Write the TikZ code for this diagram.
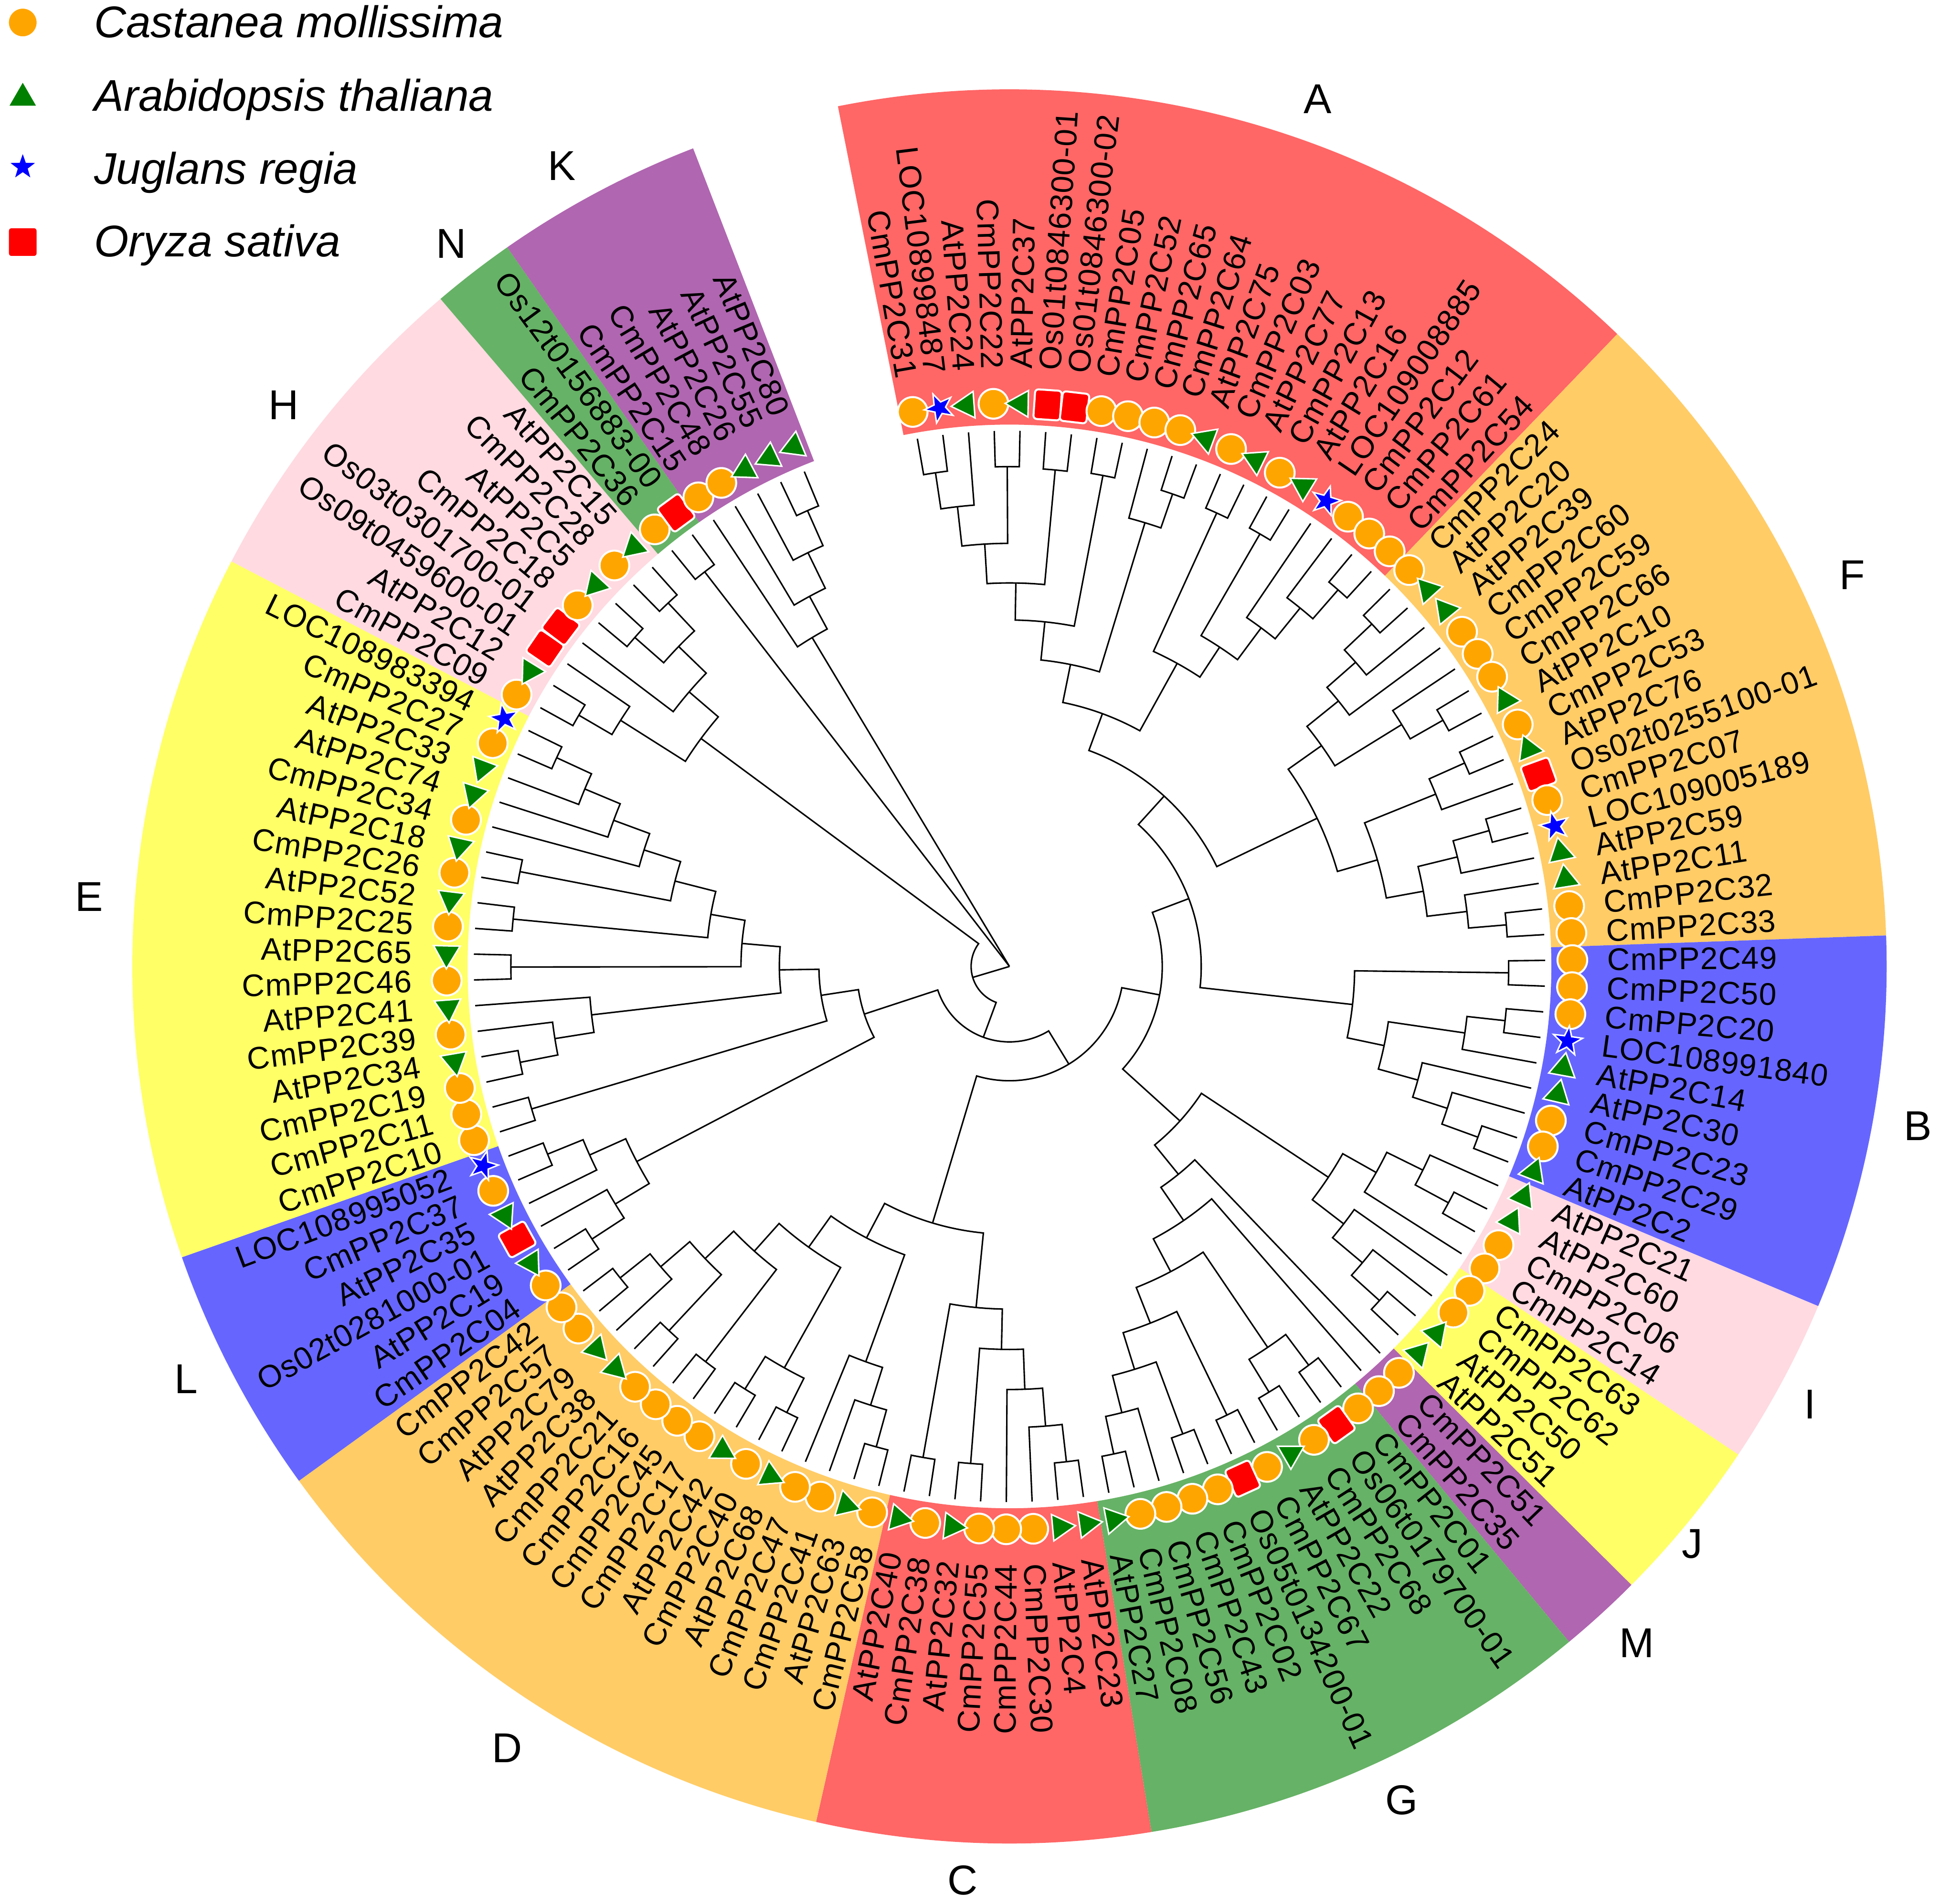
\documentclass[tikz,border=0pt]{standalone}
\usepackage{fontspec}
\setmainfont{Liberation Sans}
\newfontfamily\labfont[LetterSpace=2]{Liberation Sans}
\usetikzlibrary{shapes.geometric}

% join two subtrees (#2,#3) at radius #4, store angle/radius of the new node #1
\newcommand\tjoin[4]{%
  \edef\brA{\csname ta#2\endcsname}%
  \edef\brRA{\csname tr#2\endcsname}%
  \edef\brB{\csname ta#3\endcsname}%
  \edef\brRB{\csname tr#3\endcsname}%
  \draw[branch] (\brA:\brRA) -- (\brA:#4) arc[start angle=\brA, end angle=\brB, radius=#4] -- (\brB:\brRB);%
  \pgfmathsetmacro\brM{(\brA+\brB)/2}%
  \expandafter\xdef\csname ta#1\endcsname{\brM}%
  \expandafter\xdef\csname tr#1\endcsname{#4}%
}

\begin{document}
\begin{tikzpicture}[x=0.025cm,y=0.025cm,
    branch/.style={line width=0.03cm},
    spcm/.style={circle, fill=symorange, draw=white, line width=0.04cm, minimum size=0.6cm, inner sep=0},
    spat/.style={regular polygon, regular polygon sides=3, fill=symgreen, draw=white, line width=0.03cm, minimum size=0.62cm, inner sep=0},
    spjr/.style={star, star points=5, star point ratio=2.5, fill=blue, draw=white, line width=0.03cm, minimum size=0.62cm, inner sep=0},
    spos/.style={rectangle, rounded corners=0.07cm, fill=red, draw=white, line width=0.04cm, minimum width=0.6cm, minimum height=0.54cm, inner sep=0},
    lab/.style={font=\labfont\fontsize{18}{20}\selectfont, inner sep=0},
    clade/.style={font=\fontsize{24}{28}\selectfont, inner sep=0},
    legtxt/.style={font=\itshape\fontsize{25.5}{30}\selectfont, inner sep=0}]
    \definecolor{symorange}{RGB}{255,165,0}
    \definecolor{symgreen}{RGB}{0,128,0}
    \definecolor{wred}{RGB}{255,102,102}
    \definecolor{worg}{RGB}{255,204,102}
    \definecolor{wblu}{RGB}{102,102,255}
    \definecolor{wpnk}{RGB}{255,218,225}
    \definecolor{wyel}{RGB}{255,255,102}
    \definecolor{wpur}{RGB}{176,102,176}
    \definecolor{wgrn}{RGB}{102,178,102}

    \useasboundingbox (-815.9,-757.8) rectangle (752.1,781.2);

    % clade bands
    \foreach \f/\l/\col in {0/19/wred, 20/35/worg, 36/44/wblu, 45/48/wpnk, 49/52/wyel, 53/54/wpur, 55/65/wgrn,
        66/73/wred, 74/88/worg, 89/94/wblu, 95/111/wyel, 112/119/wpnk, 120/121/wgrn, 122/126/wpur}{
        \pgfmathsetmacro\wa{99.9-2.757*\f+1.3785}
        \pgfmathsetmacro\wb{99.9-2.757*\l-1.3785}
        \fill[\col] (\wa:438) arc[start angle=\wa, end angle=\wb, radius=438] -- (\wb:709)
            arc[start angle=\wb, end angle=\wa, radius=709] -- cycle;
    }

    % leaves
    \foreach \i in {0,...,126}{
        \pgfmathsetmacro\la{99.9-2.757*\i}
        \expandafter\xdef\csname ta\i\endcsname{\la}
        \expandafter\xdef\csname tr\i\endcsname{433}
    }

    % tree
    \foreach \nd/\ca/\cb/\rr in {
        a01/0/1/403.5, a012/a01/2/374, a34/3/4/404, a04/a012/a34/342, a56/5/6/403, a06/a04/a56/310,
        a78/7/8/404, a08/a06/a78/280, a1011/10/11/404, a0911/9/a1011/375, a011/a08/a0911/249,
        a1213/12/13/403, a1415/14/15/404, a1819/18/19/404, a1719/17/a1819/373, a1619/16/a1719/341,
        a1419/a1415/a1619/309, a1219/a1213/a1419/280, nA/a011/a1219/217.7,
        f2021/20/21/403, f2022/f2021/22/372.5, f2023/f2022/23/341.7, f2526/25/26/403, f2426/24/f2526/372.5,
        nF1/f2023/f2426/309, f2728/27/28/403, f2729/f2728/29/371.6, f3031/30/31/403, f3032/f3031/32/372.7,
        f3435/34/35/403, f3335/33/f3435/372.4, f3035/f3032/f3335/340, nF2/f2729/f3035/309.6,
        nF/nF1/nF2/276, X6/nA/nF/186,
        b3637/36/37/403.5, b3839/38/39/403, b3840/b3839/40/372, b4344/43/44/403, b4244/42/b4344/372,
        b4144/41/b4244/342.6, b3844/b3840/b4144/309.5, nB/b3637/b3844/279, X5/X6/nB/155,
        i4647/46/47/403, i4547/45/i4647/372.5, nI/i4547/48/340, j5152/51/52/403, j5052/50/j5152/372.5,
        nJ/49/j5052/341, nIJ/nI/nJ/309,
        g5556/55/56/403, g5758/57/58/403, g5558/g5556/g5758/372, g5960/59/60/403, g6162/61/62/403,
        g6465/64/65/403, g6365/63/g6465/372, g6165/g6162/g6365/341, g5965/g5960/g6165/310,
        nG/g5558/g5965/279, m54G/54/nG/249, nMG/53/m54G/216.5, X7/nIJ/nMG/186, X4/X5/X7/123.5,
        c6667/66/67/403, c6668/c6667/68/372.7, c6669/c6668/69/342, c7071/70/71/403, c6671/c6669/c7071/309.6,
        c7273/72/73/403, nC/c6671/c7273/277,
        d7475/74/75/403, d7476/d7475/76/372, d7477/d7476/77/340, d7879/78/79/403, d8081/80/81/403,
        d7881/d7879/d8081/372, d8283/82/83/403, d8485/84/85/403, d8788/87/88/403, d8688/86/d8788/372,
        d8488/d8485/d8688/341, d8288/d8283/d8488/309, d7888/d7881/d8288/279, nD/d7477/d7888/248,
        nCD/nD/nC/216.5, X3/nCD/X4/92.4,
        l8990/89/90/403, l8991/l8990/91/372, l9394/93/94/403, l9294/92/l9394/372, nL/l8991/l9294/340,
        e9596/95/96/403, e9798/97/98/403, e9799/e9798/99/372, e97100/e9799/100/340, e101102/101/102/403,
        e103104/103/104/403, e105106/105/106/403, e110111/110/111/403, e109111/109/e110111/372,
        e108111/108/e109111/341, e107111/107/e108111/310, e105111/e105106/e107111/279,
        nE3/e103104/e105111/245, nE2/e101102/nE3/217, nE1/nE2/e97100/186, Y2/nE1/e9596/154,
        Y1/Y2/nL/123.5, X2/Y1/X3/61,
        h112113/112/113/403, h112114/h112113/114/372, h116117/116/117/403, h118119/118/119/403,
        h116119/h116117/h118119/372, h115119/115/h116119/341, Z1/h112114/h115119/310, X1/Z1/X2/31,
        k125126/125/126/403, k124126/124/k125126/372, k123126/123/k124126/340, nK/122/k123126/310,
        n120121/120/121/403}{
        \tjoin{\nd}{\ca}{\cb}{\rr}
    }

    % root
    \foreach \c in {X1,nK,n120121}{
        \edef\rtA{\csname ta\c\endcsname}
        \edef\rtR{\csname tr\c\endcsname}
        \draw[branch] (0,0) -- (\rtA:\rtR);
    }

    % tips and names
    \foreach \nm/\sp [count=\i from 0] in {
        CmPP2C31/spcm, LOC108998487/spjr, AtPP2C24/spat, CmPP2C22/spcm, AtPP2C37/spat,
        Os01t0846300-01/spos, Os01t0846300-02/spos, CmPP2C05/spcm, CmPP2C52/spcm, CmPP2C65/spcm,
        CmPP2C64/spcm, AtPP2C75/spat, CmPP2C03/spcm, AtPP2C77/spat, CmPP2C13/spcm,
        AtPP2C16/spat, LOC109008885/spjr, CmPP2C12/spcm, CmPP2C61/spcm, CmPP2C54/spcm,
        CmPP2C24/spcm, AtPP2C20/spat, AtPP2C39/spat, CmPP2C60/spcm, CmPP2C59/spcm,
        CmPP2C66/spcm, AtPP2C10/spat, CmPP2C53/spcm, AtPP2C76/spat, Os02t0255100-01/spos,
        CmPP2C07/spcm, LOC109005189/spjr, AtPP2C59/spat, AtPP2C11/spat, CmPP2C32/spcm,
        CmPP2C33/spcm, CmPP2C49/spcm, CmPP2C50/spcm, CmPP2C20/spcm, LOC108991840/spjr,
        AtPP2C14/spat, AtPP2C30/spat, CmPP2C23/spcm, CmPP2C29/spcm, AtPP2C2/spat,
        AtPP2C21/spat, AtPP2C60/spat, CmPP2C06/spcm, CmPP2C14/spcm, CmPP2C63/spcm,
        CmPP2C62/spcm, AtPP2C50/spat, AtPP2C51/spat, CmPP2C51/spcm, CmPP2C35/spcm,
        CmPP2C01/spcm, Os06t0179700-01/spos, CmPP2C68/spcm, AtPP2C22/spat, CmPP2C67/spcm,
        Os05t0134200-01/spos, CmPP2C02/spcm, CmPP2C43/spcm, CmPP2C56/spcm, CmPP2C08/spcm,
        AtPP2C27/spat, AtPP2C23/spat, AtPP2C4/spat, CmPP2C30/spcm, CmPP2C44/spcm,
        CmPP2C55/spcm, AtPP2C32/spat, CmPP2C38/spcm, AtPP2C40/spat, CmPP2C58/spcm,
        AtPP2C63/spat, CmPP2C41/spcm, CmPP2C47/spcm, AtPP2C68/spat, CmPP2C40/spcm,
        AtPP2C42/spat, CmPP2C17/spcm, CmPP2C45/spcm, CmPP2C16/spcm, CmPP2C21/spcm,
        AtPP2C38/spat, AtPP2C79/spat, CmPP2C57/spcm, CmPP2C42/spcm, CmPP2C04/spcm,
        AtPP2C19/spat, Os02t0281000-01/spos, AtPP2C35/spat, CmPP2C37/spcm, LOC108995052/spjr,
        CmPP2C10/spcm, CmPP2C11/spcm, CmPP2C19/spcm, AtPP2C34/spat, CmPP2C39/spcm,
        AtPP2C41/spat, CmPP2C46/spcm, AtPP2C65/spat, CmPP2C25/spcm, AtPP2C52/spat,
        CmPP2C26/spcm, AtPP2C18/spat, CmPP2C34/spcm, AtPP2C74/spat, AtPP2C33/spat,
        CmPP2C27/spcm, LOC108983394/spjr, CmPP2C09/spcm, AtPP2C12/spat, Os09t0459600-01/spos,
        Os03t0301700-01/spos, CmPP2C18/spcm, AtPP2C5/spat, CmPP2C28/spcm, AtPP2C15/spat,
        CmPP2C36/spcm, Os12t0156883-00/spos, CmPP2C15/spcm, CmPP2C48/spcm, AtPP2C26/spat,
        AtPP2C55/spat, AtPP2C80/spat}{
        \pgfmathsetmacro\la{99.9-2.757*\i}
        \node[\sp, rotate=\la] (s\i) at (\la:455) {};
        \pgfmathtruncatemacro\flip{cos(\la)<0}
        \ifnum\flip=1
            \node[lab, rotate=\la+180, anchor=east] (t\i) at (\la:483) {\nm};
        \else
            \node[lab, rotate=\la, anchor=west] (t\i) at (\la:483) {\nm};
        \fi
    }

    % clade letters
    \node[clade] (cA) at (249.1,701.2) {A};
    \node[clade] (cF) at (681.1,316.2) {F};
    \node[clade] (cB) at (734.1,-128.8) {B};
    \node[clade] (cI) at (647.1,-353.8) {I};
    \node[clade] (cJ) at (552.1,-466.8) {J};
    \node[clade] (cM) at (507.1,-546.8) {M};
    \node[clade] (cG) at (317.1,-673.8) {G};
    \node[clade] (cC) at (-37.9,-738.8) {C};
    \node[clade] (cD) at (-406.1,-631.7) {D};
    \node[clade] (cL) at (-665.6,-333.4) {L};
    \node[clade] (cE) at (-743.9,56.2) {E};
    \node[clade] (cH) at (-586.6,453.8) {H};
    \node[clade] (cN) at (-451,584.2) {N};
    \node[clade] (cK) at (-361.7,647.2) {K};

    % legend
    \node[spcm] (lgc) at (-797.5,763) {};
    \node[spat, minimum size=0.68cm] (lga) at (-797.5,702) {};
    \node[spjr] (lgj) at (-797.5,646.2) {};
    \node[spos, minimum width=0.6cm, minimum height=0.6cm] (lgo) at (-797.5,585.5) {};
    \node[legtxt, anchor=base west] (lgct) at (-740.1,751) {Castanea mollissima};
    \node[legtxt, anchor=base west] (lgat) at (-740.1,691.4) {Arabidopsis thaliana};
    \node[legtxt, anchor=base west] (lgjt) at (-740.1,632.5) {Juglans regia};
    \node[legtxt, anchor=base west] (lgot) at (-740.1,573.6) {Oryza sativa};
\end{tikzpicture}
\end{document}
